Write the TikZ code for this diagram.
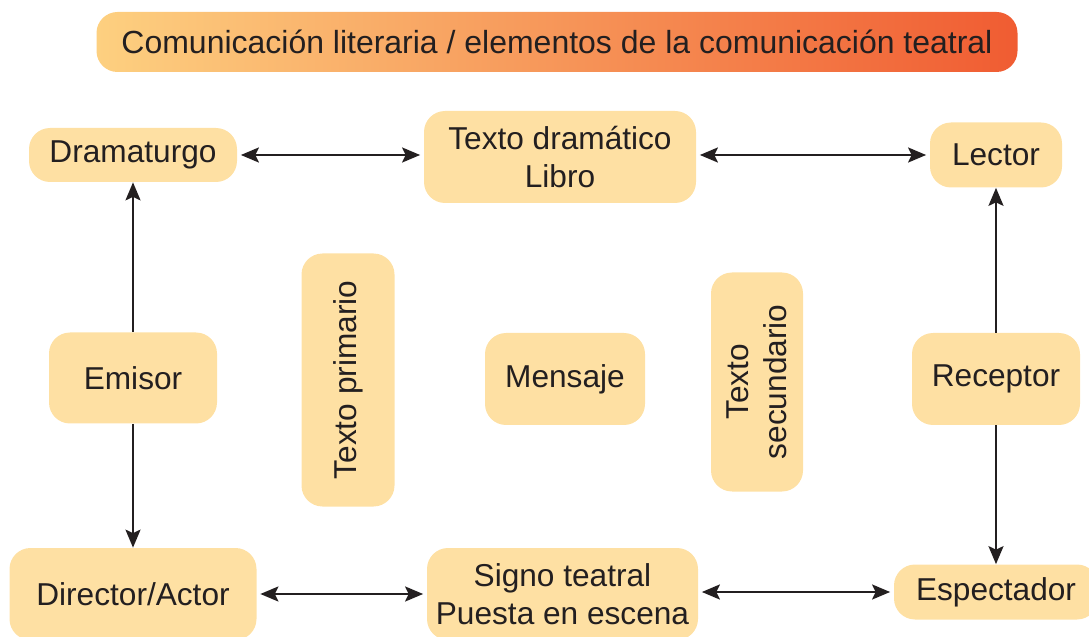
\documentclass[tikz,border=0pt]{standalone}
\usepackage{fontspec}
\setmainfont{Liberation Sans}
\definecolor{boxfill}{RGB}{254,224,163}
\definecolor{inkcol}{RGB}{35,31,32}
\definecolor{titleleft}{RGB}{253,208,128}
\definecolor{titleright}{RGB}{240,92,50}
\usetikzlibrary{arrows.meta}

\begin{document}
\begin{tikzpicture}[
      box/.style={fill=boxfill,rounded corners=0.42cm,align=center,text=inkcol,
        font=\fontsize{18}{21.6}\selectfont,inner sep=0pt},
      link/.style={draw=inkcol,line width=1.3pt,-{Stealth[length=3.6mm,width=3mm,inset=0.7mm]}},
      dlink/.style={link,{Stealth[length=3.6mm,width=3mm,inset=0.7mm]}-{Stealth[length=3.6mm,width=3mm,inset=0.7mm]},shorten <=2pt,shorten >=2pt}
    ]
      \useasboundingbox (0,0) rectangle (21.78,12.72);
      \clip (0,0) rectangle (21.78,12.72);
      % Title bar
      \node[rounded corners=0.42cm,left color=titleleft,right color=titleright,
        minimum width=18.42cm,minimum height=1.2cm,text=inkcol,
        font=\fontsize{18.2}{21.8}\selectfont] (titulo) at (11.14,11.88)
        {Comunicación literaria / elementos de la comunicación teatral};
      % Top row
      \node[box,minimum width=4.16cm,minimum height=1.08cm] (dramaturgo) at (2.66,9.62) {Dramaturgo};
      \node[box,minimum width=5.44cm,minimum height=1.84cm] (textodram) at (11.2,9.58) {Texto dramático\\Libro};
      \node[box,minimum width=2.64cm,minimum height=1.3cm] (lector) at (19.92,9.62) {Lector};
      % Middle row
      \node[box,minimum width=3.36cm,minimum height=1.82cm] (emisor) at (2.66,5.16) {Emisor};
      \node[box,rotate=90,minimum width=5.06cm,minimum height=1.86cm] (primario) at (6.96,5.12) {Texto primario};
      \node[box,minimum width=3.2cm,minimum height=1.84cm] (mensaje) at (11.3,5.14) {Mensaje};
      \node[box,rotate=90,minimum width=4.38cm,minimum height=1.84cm] (secundario) at (15.14,5.08) {Texto\\secundario};
      \node[box,minimum width=3.36cm,minimum height=1.84cm] (receptor) at (19.92,5.14) {Receptor};
      % Bottom row
      \node[box,minimum width=4.94cm,minimum height=1.84cm] (director) at (2.66,0.84) {Director/Actor};
      \node[box,minimum width=5.42cm,minimum height=1.84cm] (signo) at (11.25,0.84) {Signo teatral\\Puesta en escena};
      \node[box,minimum width=4.08cm,minimum height=1.1cm] (espectador) at (19.92,0.88) {Espectador};
      % Connectors
      \draw[dlink] (dramaturgo) -- (textodram.west |- dramaturgo);
      \draw[dlink] (textodram.east |- lector) -- (lector);
      \draw[dlink] (director) -- (signo.west |- director);
      \draw[dlink] (signo.east |- espectador) -- (espectador);
      \draw[link] (emisor) -- (dramaturgo);
      \draw[link] (emisor) -- (director);
      \draw[link] (receptor) -- (lector);
      \draw[link] (receptor) -- (espectador);
    \end{tikzpicture}
\end{document}
